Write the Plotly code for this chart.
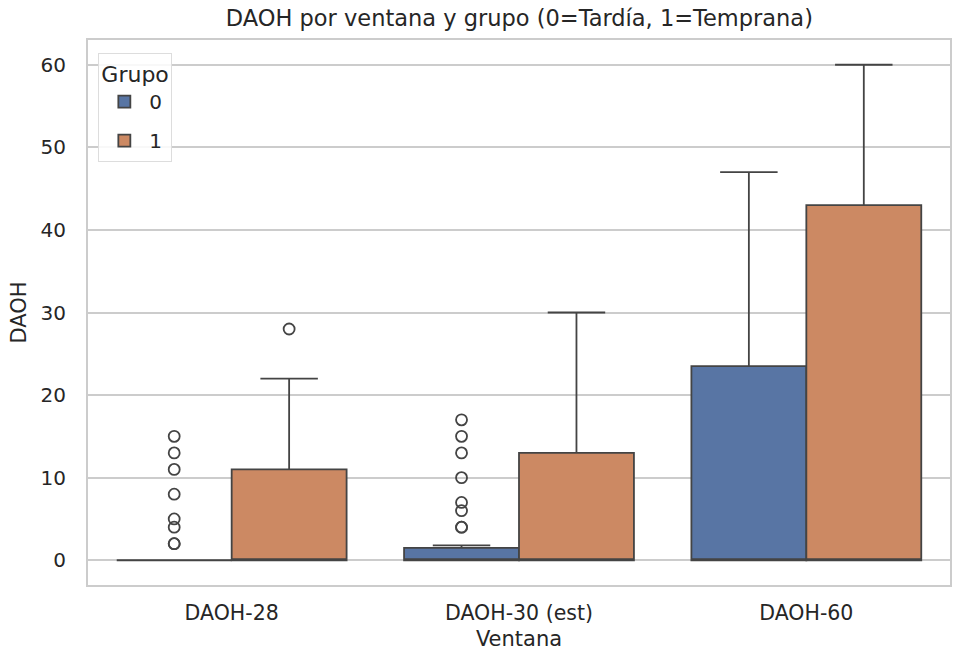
import plotly.graph_objects as go

categories = ["DAOH-28", "DAOH-30 (est)", "DAOH-60"]
groups = ["0", "1"]

# box statistics per group, one value per category
q1_g0 = [0, 0, 0]
med_g0 = [0, 0, 0]
q3_g0 = [0, 1.5, 23.5]
lo_g0 = [0, 0, 0]
hi_g0 = [0, 1.8, 47]

q1_g1 = [0, 0, 0]
med_g1 = [0, 0, 0]
q3_g1 = [11, 13, 43]
lo_g1 = [0, 0, 0]
hi_g1 = [22, 30, 60]

# outliers per category
out_g0 = [[2, 2, 4, 5, 8, 11, 13, 15], [4, 4, 6, 7, 10, 13, 15, 17], []]
out_g1 = [[28], [], []]

colors = ["#5875A4", "#CC8963"]
edge = "#444444"
FONT = "DejaVu Sans, Liberation Sans, sans-serif"

n_hue = len(groups)
total_w = 0.8
bw = total_w / n_hue

stats = [
    (q1_g0, med_g0, q3_g0, lo_g0, hi_g0, out_g0),
    (q1_g1, med_g1, q3_g1, lo_g1, hi_g1, out_g1),
]

fig = go.Figure()
for gi, (q1, med, q3, lo, hi, outs) in enumerate(stats):
    offset = -total_w / 2 + bw * (gi + 0.5)
    xs = [ci + offset for ci in range(len(categories))]
    fig.add_trace(go.Box(
        x=xs, q1=q1, median=med, q3=q3, lowerfence=lo, upperfence=hi,
        width=bw, name=groups[gi], fillcolor=colors[gi],
        line=dict(color=edge, width=1.8), whiskerwidth=0.5,
        boxpoints=False, legendgroup=groups[gi],
    ))
    ox, oy = [], []
    for ci, vals in enumerate(outs):
        for v in vals:
            ox.append(ci + offset)
            oy.append(v)
    fig.add_trace(go.Scatter(
        x=ox, y=oy, mode="markers", showlegend=False, legendgroup=groups[gi],
        marker=dict(symbol="circle-open", size=11, color=edge, line=dict(width=1.8, color=edge)),
    ))

fig.update_layout(
    width=953, height=651,
    margin=dict(l=88, r=3, t=40, b=66, autoexpand=False),
    paper_bgcolor="white", plot_bgcolor="white",
    font=dict(family=FONT, size=20.5, color="#262626"),
    title=dict(text="DAOH por ventana y grupo (0=Tardía, 1=Temprana)",
               x=0.545, xanchor="center", y=0.972, yanchor="middle",
               font=dict(size=22.5, color="#262626")),
    showlegend=True,
    legend=dict(
        title=dict(text="Grupo", font=dict(size=22)),
        x=0.012, y=0.977, xanchor="left", yanchor="top",
        bgcolor="rgba(255,255,255,0.85)", bordercolor="#dddddd", borderwidth=1,
        font=dict(size=20), itemwidth=40,
    ),
    xaxis=dict(
        range=[-0.5, 2.5], tickmode="array",
        tickvals=list(range(len(categories))), ticktext=categories,
        showgrid=False, zeroline=False, showline=True, mirror=True,
        linecolor="#cccccc", linewidth=2,
        ticks="outside", ticklen=8, tickcolor="rgba(0,0,0,0)",
        tickfont=dict(size=20.5),
        title=dict(text="Ventana", font=dict(size=21), standoff=16),
        automargin=True,
    ),
    yaxis=dict(
        range=[-3, 63], tickmode="array", tickvals=[0, 10, 20, 30, 40, 50, 60],
        showgrid=True, gridcolor="#cccccc", gridwidth=1.5,
        zeroline=False, showline=True, mirror=True,
        linecolor="#cccccc", linewidth=2,
        ticks="outside", ticklen=16, tickcolor="rgba(0,0,0,0)",
        tickfont=dict(size=20),
        title=dict(text="DAOH", font=dict(size=21), standoff=8),
        automargin=False,
    ),
)

fig.write_html("out.html", config={"displayModeBar": False},
               post_script="document.body.style.margin='0';document.body.style.padding='0';")
